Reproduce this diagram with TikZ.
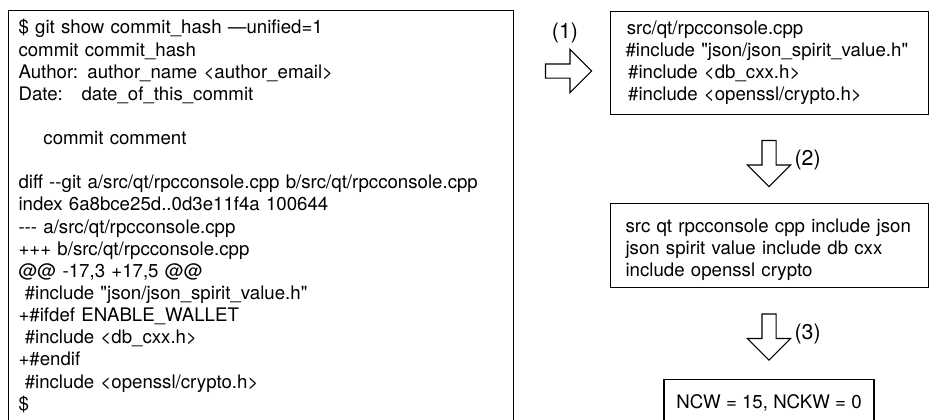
\documentclass[tikz,border=0pt]{standalone}
\usepackage{fontspec}
\setmainfont{TeX Gyre Heros}[Ligatures=TeXOff]
\usetikzlibrary{shapes,arrows,positioning}
\tikzstyle{textbox} = [rectangle, draw, line width=0.8pt, align=left,
    anchor=north west, font=\fontsize{14}{16.6}\selectfont]
\tikzstyle{steparrow} = [single arrow, draw, line width=0.8pt,
    inner xsep=0pt, inner ysep=4.875pt, minimum height=34.5pt,
    single arrow head extend=10.875pt]
\tikzstyle{steplabel} = [inner sep=0pt, font=\fontsize{16}{19}\selectfont]

\begin{document}
\begin{tikzpicture}[x=0.75pt, y=-0.75pt]
\useasboundingbox (0,0) rectangle (929,419);
\node [textbox, text width=363.75pt, inner xsep=7.5pt, inner ysep=6.75pt] (gitshow) at (8,10) {
\$ git show commit\_hash —unified=1\\
commit commit\_hash\\
Author: author\_name <author\_email>\\
Date:\ \ \ date\_of\_this\_commit\\
\mbox{}\\
\ \ \ \ commit comment\\
\mbox{}\\
diff --git a/src/qt/rpcconsole.cpp b/src/qt/rpcconsole.cpp\\
index 6a8bce25d..0d3e11f4a 100644\\
--- a/src/qt/rpcconsole.cpp\\
+++ b/src/qt/rpcconsole.cpp\\
@@ -17,3 +17,5 @@\\
\ \#include "json/json\_spirit\_value.h"\\
+\#ifdef ENABLE\_WALLET\\
\ \#include <db\_cxx.h>\\
+\#endif\\
\ \#include <openssl/crypto.h>\\
\$\rule[-22pt]{0pt}{0pt}};
\node [textbox, text width=216pt, inner xsep=11.25pt, inner ysep=7pt] (includes) at (610,11) {
\hspace{1pt}src/qt/rpcconsole.cpp\\
\#include "json/json\_spirit\_value.h"\\
\hspace{2pt}\#include <db\_cxx.h>\\
\hspace{2pt}\#include <openssl/crypto.h>};
\node [textbox, text width=216pt, inner xsep=11.25pt, inner ysep=5pt] (words) at (610,203) {
\rule{0pt}{16.75pt}src qt rpcconsole cpp include json\\
json spirit value include db cxx\\
include openssl crypto};
\node [textbox, anchor=north, align=center, minimum width=157.5pt, inner ysep=11pt] (score) at (769,379) {NCW = 15, NCKW = 0\rule[-14pt]{0pt}{0pt}};
\node [steparrow] (toIncludes) at (565,71) {};
\node [steparrow, rotate=-90] (toWords) at (769,160) {};
\node [steparrow, rotate=-90] (toScore) at (769,333.5) {};
\node [steplabel, above=21pt of toIncludes.center] (labIncludes) {(1)};
\node [steplabel, right=19pt of toWords.center] (labWords) {(2)};
\node [steplabel, right=19pt of toScore.center] (labScore) {(3)};
\end{tikzpicture}
\end{document}
